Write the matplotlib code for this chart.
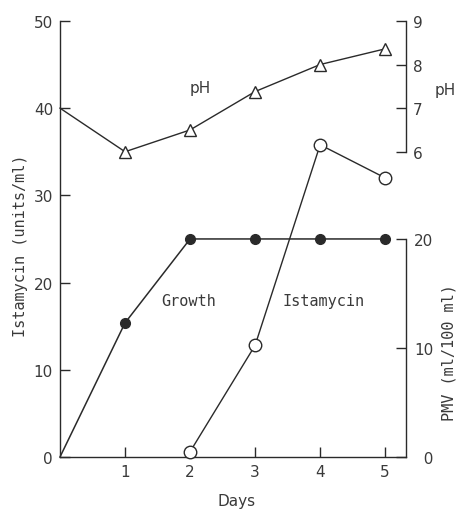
import matplotlib
matplotlib.use("Agg")
import matplotlib.pyplot as plt

days = [0, 1, 2, 3, 4, 5]
ph_values = [7.0, 6.0, 6.5, 7.38, 8.0, 8.36]
growth_days = [0, 1, 2, 3, 4, 5]
pmv_values = [0, 12.3, 20, 20, 20, 20]
ist_days = [2, 3, 4, 5]
ist_values = [0.6, 12.8, 35.8, 32.0]

left_ticks = [0, 10, 20, 30, 40, 50]
day_ticks = [1, 2, 3, 4, 5]
ph_ticks = [6, 7, 8, 9]
pmv_ticks = [0, 10, 20]
pmv_ticklabels = ["\u20070", "10", "20"]

ink = "#2a2a2a"
txt = "#3a3a3a"
mono = "DejaVu Sans Mono"
sans = "DejaVu Sans"

plt.rcParams['xtick.direction'] = 'in'
plt.rcParams['ytick.direction'] = 'in'
plt.rcParams['font.family'] = sans

fig = plt.figure(figsize=(4.59, 5.10), dpi=100)
ax = fig.add_axes([0.1307, 0.102, 0.7538, 0.855])
ax.set_xlim(0, 5.32)
ax.set_ylim(0, 50)

ax2 = ax.twinx()  # pH
ax2.set_ylim(-1, 9)
ax3 = ax.twinx()  # PMV
ax3.set_ylim(0, 40)

for a in (ax, ax2, ax3):
    a.spines['top'].set_visible(False)
    a.patch.set_visible(False)
    for s in a.spines.values():
        s.set_color(ink)
        s.set_linewidth(1.0)

ax.spines['right'].set_visible(False)
ax2.spines['left'].set_visible(False)
ax3.spines['left'].set_visible(False)
ax2.spines['bottom'].set_visible(False)
ax3.spines['bottom'].set_visible(False)
ax2.spines['right'].set_bounds(6, 9)
ax3.spines['right'].set_bounds(0, 20)

ax.set_yticks(left_ticks)
ax.set_xticks(day_ticks)
ax.tick_params(axis='both', direction='in', length=7, width=1, color=ink,
               labelcolor=txt, labelsize=11, pad=5)
ax.tick_params(axis='y', left=True, right=False)
ax.tick_params(axis='x', bottom=True, top=False)

ax2.set_yticks(ph_ticks)
ax2.tick_params(axis='y', direction='in', length=7, width=1, color=ink,
                labelcolor=txt, labelsize=11, pad=5)
ax3.set_yticks(pmv_ticks, labels=pmv_ticklabels)
ax3.tick_params(axis='y', direction='in', length=7, width=1, color=ink,
                labelcolor=txt, labelsize=11, pad=6)

# data
ax2.plot(days, ph_values, color=ink, lw=1.0, marker='^', markersize=8,
         markerfacecolor='white', markeredgecolor=ink, markeredgewidth=1.0,
         markevery=[1, 2, 3, 4, 5], clip_on=False, zorder=3)
ax3.plot(growth_days, pmv_values, color=ink, lw=1.1, marker='o', markersize=7,
         markerfacecolor=ink, markeredgecolor=ink,
         markevery=[1, 2, 3, 4, 5], clip_on=False, zorder=3)
ax.plot(ist_days, ist_values, color=ink, lw=1.0, marker='o', markersize=9,
        markerfacecolor='white', markeredgecolor=ink, markeredgewidth=1.0,
        clip_on=False, zorder=4)

# annotations
ax.text(2.15, 42.4, "pH", fontsize=11, family=sans, color=txt, ha='center', va='center')
ax.text(1.98, 18.0, "Growth", fontsize=11, family=mono, color=txt, ha='center', va='center')
ax.text(4.05, 18.0, "Istamycin", fontsize=11, family=mono, color=txt, ha='center', va='center')

fig.text(0.044, 0.518, "Istamycin (units/ml)", rotation=90, fontsize=11, family=mono,
         color=txt, ha='center', va='center')
fig.text(0.978, 0.308, "PMV (ml/100 ml)", rotation=90, fontsize=11, family=mono,
         color=txt, ha='center', va='center')
fig.text(0.97, 0.823, "pH", fontsize=11, family=sans, color=txt, ha='center', va='center')
fig.text(0.516, 0.016, "Days", fontsize=11, family=sans, color=txt, ha='center', va='center')

fig.savefig("out.png", dpi=100)
